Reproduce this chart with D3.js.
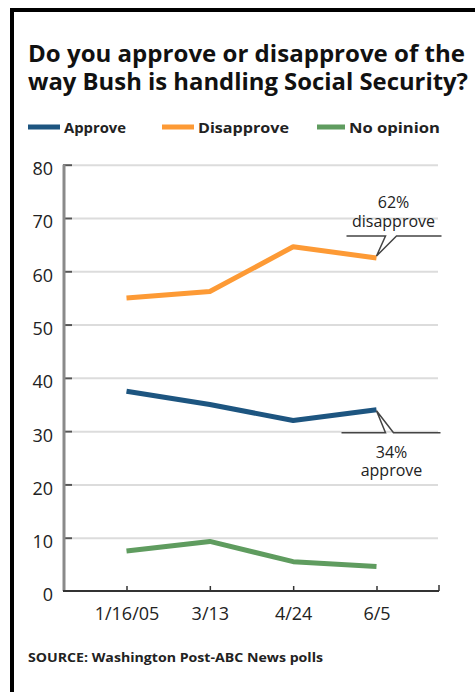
<!DOCTYPE html>
<html>
<head>
<meta charset="utf-8">
<script src="https://cdn.jsdelivr.net/npm/d3@7"></script>
<style>
    html, body { margin: 0; padding: 0; background: #fff; }
    svg { display: block; }
    text { font-family: "Open Sans", "DejaVu Sans", sans-serif; fill: #222; }
</style>
</head>
<body>
<div id="chart"></div>
<script>
/* global d3 */

// poll data
const categories = ['1/16/05', '3/13', '4/24', '6/5'];
const approve = [37.5, 35, 32, 34];
const disapprove = [55, 56.2, 64.6, 62.5];
const noOpinion = [7.5, 9.3, 5.5, 4.6];
const yTicks = [0, 10, 20, 30, 40, 50, 60, 70, 80];
const seriesNames = ['Approve', 'Disapprove', 'No opinion'];
const seriesColors = ['#1d5580', '#fd9a35', '#5f9c5f'];

const width = 475, height = 692;
const plot = {left: 64, right: 439, top: 164.7, bottom: 591};

let svg = d3.select('#chart').append('svg')
    .attr('width', width)
    .attr('height', height);

svg.append('rect').attr('width', width).attr('height', height).attr('fill', '#fff');

// frame (only top and left edges are in the crop)
svg.append('path')
    .attr('d', 'M12,' + height + 'V10H' + width)
    .attr('fill', 'none')
    .attr('stroke', '#000')
    .attr('stroke-width', 4);

// title
const title = ['Do you approve or disapprove of the', 'way Bush is handling Social Security?'];
const titleLen = [437, 440];
svg.selectAll('.title').data(title).enter().append('text')
    .attr('class', 'title')
    .attr('x', 28)
    .attr('y', (d, i) => 62 + i * 28)
    .attr('textLength', (d, i) => titleLen[i])
    .attr('lengthAdjust', 'spacingAndGlyphs')
    .style('font-size', '23px')
    .style('font-weight', 700)
    .style('fill', '#111')
    .text(d => d);

// legend
const legendX = [28, 162, 317];
const legendLen = [62, 91, 91];
let legend = svg.selectAll('.legend').data(seriesNames).enter().append('g')
    .attr('class', 'legend')
    .attr('transform', (d, i) => 'translate(' + legendX[i] + ',127)');
legend.append('rect')
    .attr('y', -2.5).attr('width', (d, i) => i === 2 ? 28 : 32).attr('height', 5)
    .attr('fill', (d, i) => seriesColors[i]);
legend.append('text')
    .attr('x', (d, i) => i === 2 ? 32 : 36)
    .attr('y', 5.5)
    .attr('textLength', (d, i) => legendLen[i])
    .attr('lengthAdjust', 'spacingAndGlyphs')
    .style('font-size', '14px')
    .style('font-weight', 700)
    .text(d => d);

const x = d3.scalePoint().domain(categories).range([plot.left, plot.right]).padding(0.75);
const y = d3.scaleLinear().domain([0, 80]).range([plot.bottom, plot.top]);

// gridlines + y axis
let yAxis = svg.append('g').attr('transform', 'translate(' + plot.left + ',0)')
    .call(d3.axisLeft(y).tickValues(yTicks).tickSize(0).tickPadding(11));
yAxis.select('.domain').remove();
yAxis.selectAll('text')
    .attr('dy', '0.55em')
    .style('font-size', '18px')
    .style('font-weight', 500)
    .style('font-family', '"Open Sans", sans-serif')
    .style('fill', '#222');
yAxis.selectAll('.tick').filter(d => d > 0).append('line')
    .attr('x1', 8).attr('x2', plot.right - plot.left - 1)
    .attr('stroke', '#dcdcdc').attr('stroke-width', 2);
yAxis.selectAll('.tick').filter(d => d > 0).append('line')
    .attr('x1', -1).attr('x2', 8)
    .attr('stroke', '#555').attr('stroke-width', 2);
svg.append('line')
    .attr('x1', plot.left).attr('x2', plot.left)
    .attr('y1', plot.top).attr('y2', plot.bottom)
    .attr('stroke', '#8a8a8a').attr('stroke-width', 3);

// x axis
let xAxis = svg.append('g').attr('transform', 'translate(0,' + plot.bottom + ')')
    .call(d3.axisBottom(x).tickSizeInner(-5).tickSizeOuter(0).tickPadding(16));
xAxis.select('.domain').remove();
xAxis.selectAll('.tick line').attr('stroke', '#333').attr('stroke-width', 1.5);
xAxis.selectAll('text')
    .attr('dy', '0.71em')
    .style('font-size', '18px')
    .style('font-weight', 500)
    .style('font-family', '"Open Sans", sans-serif')
    .style('fill', '#222');
xAxis.append('line')
    .attr('x1', plot.left - 1).attr('x2', plot.right)
    .attr('stroke', '#333').attr('stroke-width', 2);
xAxis.append('line')
    .attr('x1', plot.right).attr('x2', plot.right).attr('y1', 0).attr('y2', -6)
    .attr('stroke', '#333').attr('stroke-width', 1.5);

// lines
const series = [approve, disapprove, noOpinion];
const line = d3.line().x((d, i) => x(categories[i])).y(d => y(d));
svg.selectAll('.series').data(series).enter().append('path')
    .attr('class', 'series')
    .attr('d', line)
    .attr('fill', 'none')
    .attr('stroke', (d, i) => seriesColors[i])
    .attr('stroke-width', 5)
    .attr('stroke-linejoin', 'round');

// callouts for the latest poll
const last = categories.length - 1;
const px = x(categories[last]);

let dy0 = y(disapprove[last]), uy0 = dy0 - 22;
svg.append('path')
    .attr('d', 'M' + (px - 30) + ',' + uy0 + 'H' + (px + 9) + 'L' + px + ',' + (dy0 - 2) +
        'L' + (px + 20) + ',' + uy0 + 'H' + (px + 65))
    .attr('fill', 'none').attr('stroke', '#444').attr('stroke-width', 1.5);

let dy1 = y(approve[last]), uy1 = dy1 + 23;
svg.append('path')
    .attr('d', 'M' + (px - 35) + ',' + uy1 + 'H' + (px + 9) + 'L' + px + ',' + (dy1 + 1) +
        'L' + (px + 17) + ',' + uy1 + 'H' + (px + 64))
    .attr('fill', 'none').attr('stroke', '#444').attr('stroke-width', 1.5);

const callouts = [
    {x: px + 17, y: uy0 - 28, text: Math.floor(disapprove[last]) + '%'},
    {x: px + 17, y: uy0 - 9, text: 'disapprove'},
    {x: px + 15, y: uy1 + 25, text: approve[last] + '%'},
    {x: px + 15, y: uy1 + 43, text: 'approve'}
];
svg.selectAll('.callout').data(callouts).enter().append('text')
    .attr('class', 'callout')
    .attr('x', d => d.x).attr('y', d => d.y)
    .attr('text-anchor', 'middle')
    .style('font-size', '16px')
    .style('font-weight', 500)
    .text(d => d.text);

// source line
svg.append('text')
    .attr('x', 28).attr('y', 662)
    .attr('textLength', 295)
    .attr('lengthAdjust', 'spacingAndGlyphs')
    .style('font-size', '13px')
    .style('font-weight', 700)
    .text('SOURCE: Washington Post-ABC News polls');
</script>
</body>
</html>
